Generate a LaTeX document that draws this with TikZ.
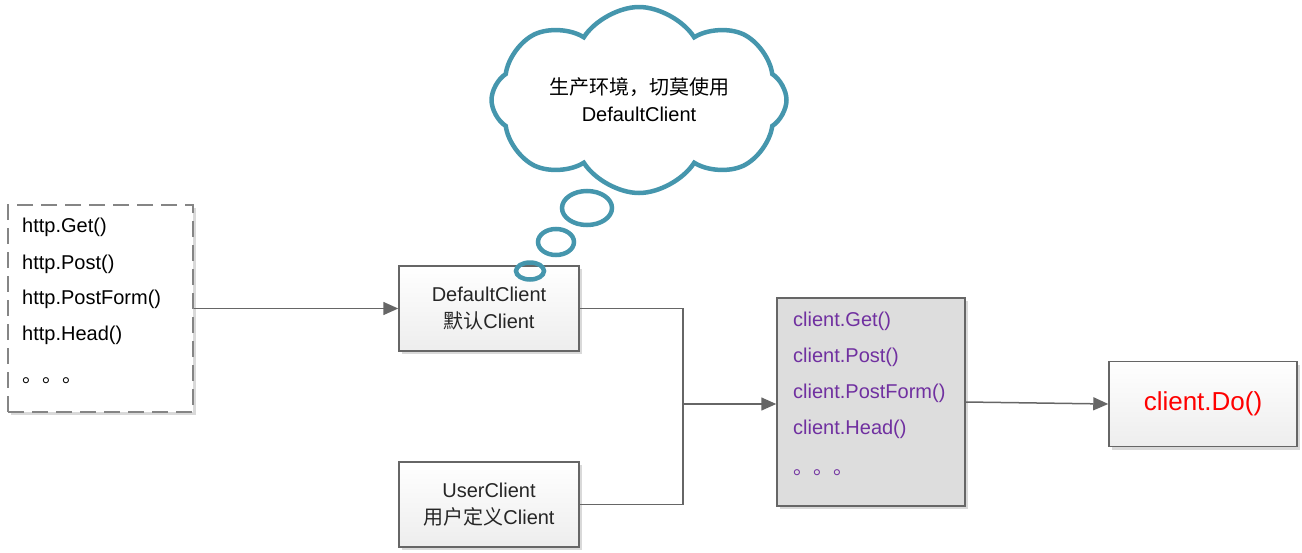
\documentclass[tikz,border=0pt]{standalone}
\usepackage{fontspec}
\setmainfont{Liberation Sans}
\newfontfamily\cjk{Noto Sans CJK SC}
\usetikzlibrary{arrows.meta,shapes.symbols,shadows}

\definecolor{linegray}{HTML}{666666}
\definecolor{cloudblue}{HTML}{4596AD}
\definecolor{callpurple}{HTML}{7030A0}
\definecolor{boxgray}{HTML}{DDDDDD}
\definecolor{textgray}{HTML}{262626}

\tikzset{
  shade/.style={drop shadow={shadow xshift=3pt, shadow yshift=-3pt, fill=black!15, opacity=1}},
  clientbox/.style={draw=linegray, line width=1.5pt, top color=white, bottom color=black!7,
    minimum width=180pt, minimum height=85pt, align=center, text=textgray, shade},
  link/.style={draw=linegray, line width=1.5pt},
  arr/.style={link, -{Triangle[length=15pt,width=13pt]}},
  item/.style={anchor=west, inner sep=0pt},
}

\begin{document}
\begin{tikzpicture}[x=1pt, y=-1pt, font=\fontsize{20}{27}\selectfont]
            \useasboundingbox (0,0) rectangle (1302,552);

            % left: package level calls
            \node[draw=linegray!80, line width=2pt, dash pattern=on 16pt off 8pt, fill=white, shade,
                  minimum width=185pt, minimum height=207pt] (pkg) at (100.5,308.5) {};
            \node[item] (pkgget) at (22,227) {http.Get()};
            \node[item] (pkgpost) at (22,264) {http.Post()};
            \node[item] (pkgform) at (22,299) {http.PostForm()};
            \node[item] (pkghead) at (22,335) {http.Head()};
            \node[item] (pkgdots) at (22,381) {\cjk 。。。};

            % the two clients
            \node[clientbox] (dflt) at (489,308.5) {DefaultClient\\{\cjk 默认}Client};
            \node[clientbox] (user) at (489,504.5) {UserClient\\{\cjk 用户定义}Client};

            % client methods
            \node[draw=linegray, line width=1.5pt, fill=boxgray, shade,
                  minimum width=188pt, minimum height=208pt] (calls) at (871,402) {};
            \node[item, text=callpurple] (callget) at (793,321) {client.Get()};
            \node[item, text=callpurple] (callpost) at (793,357) {client.Post()};
            \node[item, text=callpurple] (callform) at (793,393) {client.PostForm()};
            \node[item, text=callpurple] (callhead) at (793,429) {client.Head()};
            \node[item, text=callpurple] (calldots) at (793,473) {\cjk 。。。};

            \node[clientbox, minimum width=188pt, text=red, font=\fontsize{26}{30}\selectfont] (doit) at (1203,404) {client.Do()};

            % warning cloud
            \node[cloud, cloud puffs=8, cloud puff arc=115, cloud ignores aspect, draw=cloudblue, line width=4.5pt, fill=white,
                  minimum width=295pt, minimum height=186pt, align=center] (warn) at (639,100)
                  {{\cjk 生产环境，切莫使用}\\DefaultClient};
            \draw[cloudblue, line width=4.5pt] (587,208) ellipse (25pt and 17pt);
            \draw[cloudblue, line width=4.5pt] (556,242) ellipse (18pt and 13pt);
            \draw[cloudblue, line width=4.5pt] (530,271) ellipse (14pt and 8.5pt);

            % connectors
            \coordinate (merge) at (683,404);
            \draw[arr] (pkg.east) -- (dflt.west);
            \draw[link] (dflt.east) -| (merge);
            \draw[link] (user.east) -| (merge);
            \draw[arr] (merge) -- (merge -| calls.west);
            \draw[arr] (calls.east) -- (doit.west);
\end{tikzpicture}
\end{document}
